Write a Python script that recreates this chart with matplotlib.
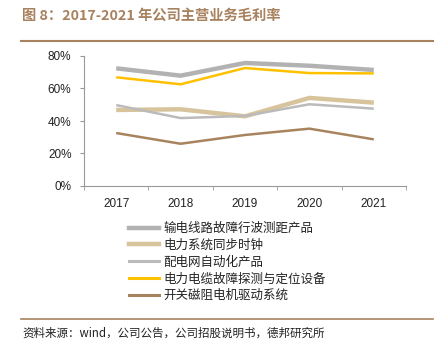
import matplotlib
matplotlib.use("Agg")
import matplotlib.pyplot as plt
from matplotlib.lines import Line2D

plt.rcParams['font.family'] = ['Noto Sans CJK SC', 'DejaVu Sans']

years = ['2017', '2018', '2019', '2020', '2021']
names = ['输电线路故障行波测距产品', '电力系统同步时钟', '配电网自动化产品',
         '电力电缆故障探测与定位设备', '开关磁阻电机驱动系统']
s_fault = [72.4, 67.9, 75.7, 74.0, 71.4]
s_clock = [46.8, 47.2, 42.9, 54.2, 51.3]
s_dist = [49.8, 41.8, 43.1, 50.3, 47.6]
s_cable = [66.9, 62.6, 72.6, 69.5, 69.3]
s_srd = [32.6, 26.0, 31.4, 35.3, 28.7]
series = [s_fault, s_clock, s_dist, s_cable, s_srd]
colors = ['#B2B2B2', '#D8C49C', '#BBBBBB', '#FFC000', '#A8845E']
widths = [3.2, 3.2, 1.8, 1.8, 1.8]

W, H = 447, 363
fig = plt.figure(figsize=(W / 100, H / 100), dpi=100)

# axes: left 84, right 406, top 56, bottom 186
ax = fig.add_axes([84 / W, 1 - 186 / H, (406 - 84) / W, (186 - 56) / H])
x = list(range(len(years)))
for s, c, w in zip(series, colors, widths):
    ax.plot(x, s, color=c, lw=w, solid_capstyle='butt', solid_joinstyle='miter')

ax.set_xlim(-0.5, len(years) - 0.5)
ax.set_ylim(0, 80)
ax.set_yticks([0, 20, 40, 60, 80])
ax.set_yticklabels([f'{v}%' for v in [0, 20, 40, 60, 80]], fontsize=8.5,
                   family=['Liberation Sans', 'DejaVu Sans'], color='#222222')
ax.set_xticks(x)
ax.set_xticklabels(years, fontsize=8.5, family=['Liberation Sans', 'DejaVu Sans'],
                   color='#222222')
ax.set_xticks([i + 0.5 for i in range(-1, len(years))], minor=True)
ax.tick_params(axis='x', which='major', length=0, pad=9)
ax.tick_params(axis='x', which='minor', length=3, color='#999999', direction='out')
ax.tick_params(axis='y', length=3, color='#999999', pad=6)
for sp in ['top', 'right']:
    ax.spines[sp].set_visible(False)
for sp in ['left', 'bottom']:
    ax.spines[sp].set_color('#999999')
    ax.spines[sp].set_linewidth(0.8)

# legend
handles = [Line2D([0], [0], color=c, lw=3.2 if w > 2 else 2.2) for c, w in zip(colors, widths)]
leg = fig.legend(handles, names, loc='upper left', bbox_to_anchor=(124 / W, 1 - 217 / H),
                 frameon=False, fontsize=9, handlelength=2.4, handletextpad=0.35,
                 labelspacing=0.3, borderaxespad=0)
for t in leg.get_texts():
    t.set_color('#222222')

# title
title_color = '#A8815E'
fig.text(22 / W, 1 - 16 / H, '图 8：2017-2021 年公司主营业务毛利率', fontsize=10.3,
         fontweight='bold', color=title_color, va='center', ha='left')
fig.add_artist(Line2D([21 / W, 433 / W], [1 - 41 / H, 1 - 41 / H], color=title_color, lw=1.5))
fig.add_artist(Line2D([21 / W, 433 / W], [1 - 319 / H, 1 - 319 / H], color=title_color, lw=1.2))
fig.text(22 / W, 1 - 333 / H, '资料来源：wind，公司公告，公司招股说明书，德邦研究所', fontsize=8.3,
         color='#222222', va='center', ha='left')

fig.savefig('out.png', dpi=100)
